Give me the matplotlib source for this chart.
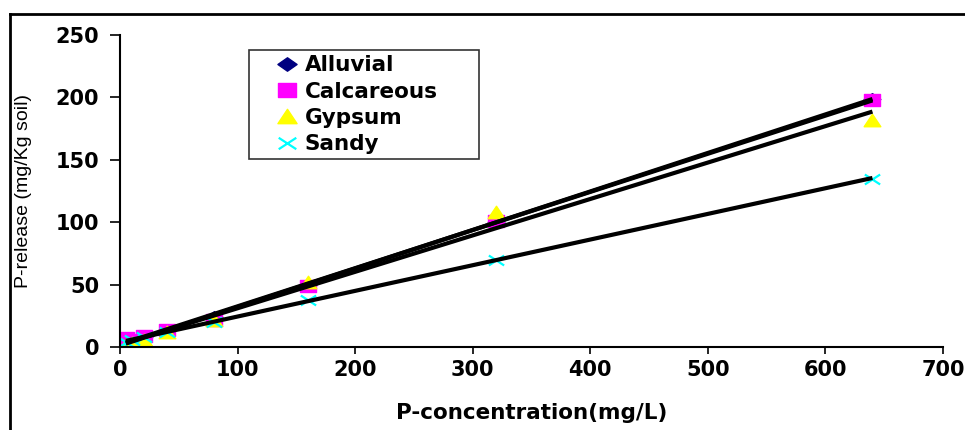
import numpy as np
import matplotlib
matplotlib.use("Agg")
import matplotlib.pyplot as plt
from matplotlib.lines import Line2D
from matplotlib.path import Path

plt.rcParams['font.family'] = ['DejaVu Sans']

conc = [5, 10, 20, 40, 80, 160, 320, 640]
alluvial = [3, 5, 8, 14, 24, 50, 100, 199]
calcareous = [7, 6, 9, 14, 22, 49, 101, 198]
gypsum = [2, 3, 6, 12, 22, 52, 108, 182]
sandy = [4, 6, 8, 12, 20, 38, 70, 135]
labels = ["Alluvial", "Calcareous", "Gypsum", "Sandy"]

# wide (horizontally stretched) marker shapes
diamond = Path([(-1, 0), (0, 0.7), (1, 0), (0, -0.7), (-1, 0)],
               [Path.MOVETO, Path.LINETO, Path.LINETO, Path.LINETO, Path.CLOSEPOLY])
square = Path([(-1, -0.8), (1, -0.8), (1, 0.8), (-1, 0.8), (-1, -0.8)],
              [Path.MOVETO, Path.LINETO, Path.LINETO, Path.LINETO, Path.CLOSEPOLY])
triangle = Path([(-1, -0.75), (1, -0.75), (0, 0.75), (-1, -0.75)],
                [Path.MOVETO, Path.LINETO, Path.LINETO, Path.CLOSEPOLY])
cross = Path([(-1, -0.65), (1, 0.65), (-1, 0.65), (1, -0.65)],
             [Path.MOVETO, Path.LINETO, Path.MOVETO, Path.LINETO])

styles = [
    dict(marker=diamond, color='#000080', ms=12, ls='none'),
    dict(marker=square, color='#FF00FF', ms=11, ls='none'),
    dict(marker=triangle, color='#FFFF00', ms=12, ls='none'),
    dict(marker=cross, color='#00FFFF', ms=11, mew=1.6, ls='none'),
]
data = [alluvial, calcareous, gypsum, sandy]

fig = plt.figure(figsize=(9.65, 4.3), dpi=100)
ax = fig.add_axes([120/965, 1-347/430, (943-120)/965, (347-35)/430])

x = np.array(conc, dtype=float)
for name, vals, st in zip(labels, data, styles):
    ax.plot(conc, vals, label=name, zorder=2, **st)

for vals in data:
    k, b = np.polyfit(x, np.array(vals, dtype=float), 1)
    xs = np.array([x.min(), x.max()])
    ax.plot(xs, k*xs + b, color='black', lw=3.0, zorder=3, solid_capstyle='butt')

ax.set_xlim(0, 700)
ax.set_ylim(0, 250)
ax.set_xticks(range(0, 701, 100))
ax.set_yticks(range(0, 251, 50))
for s in ['top', 'right']:
    ax.spines[s].set_visible(False)
for s in ['left', 'bottom']:
    ax.spines[s].set_linewidth(1.5)
ax.tick_params(axis='both', direction='out', width=1.2, labelsize=15)
ax.tick_params(axis='x', length=5, pad=4)
ax.tick_params(axis='y', length=7, pad=8)
for lab in ax.get_xticklabels() + ax.get_yticklabels():
    lab.set_fontweight('bold')

ax.set_xlabel("P-concentration(mg/L)", fontsize=15.5, fontweight='bold')
ax.xaxis.label.set_va('center')
ax.xaxis.set_label_coords(0.5, (347-413)/312)
ax.set_ylabel("P-release (mg/Kg soil)", fontsize=14, family=['Liberation Sans', 'DejaVu Sans'])
ax.yaxis.set_label_coords((32-120)/823, 0.5)

handles = [Line2D([], [], **st) for st in styles]
x0 = (249-120)/823
x1 = (479-120)/823
y1 = (347-50)/312
y0 = (347-159)/312
leg = ax.legend(handles, labels, loc='upper left', mode='expand',
                bbox_to_anchor=(x0, y0, x1-x0, y1-y0),
                prop=dict(size=15.5, weight='bold'), frameon=True, fancybox=False,
                edgecolor='black', borderpad=0.25, labelspacing=0.29,
                handletextpad=-0.68, handlelength=3.03, borderaxespad=0,
                markerscale=1.15)
leg.get_frame().set_linewidth(1.2)

# outer chart frame
fig.add_artist(Line2D([10/965, 1], [1-14/430, 1-14/430], color='black', lw=2, transform=fig.transFigure))
fig.add_artist(Line2D([10/965, 10/965], [0, 1-14/430], color='black', lw=2, transform=fig.transFigure))

fig.savefig("out.png", dpi=100)
